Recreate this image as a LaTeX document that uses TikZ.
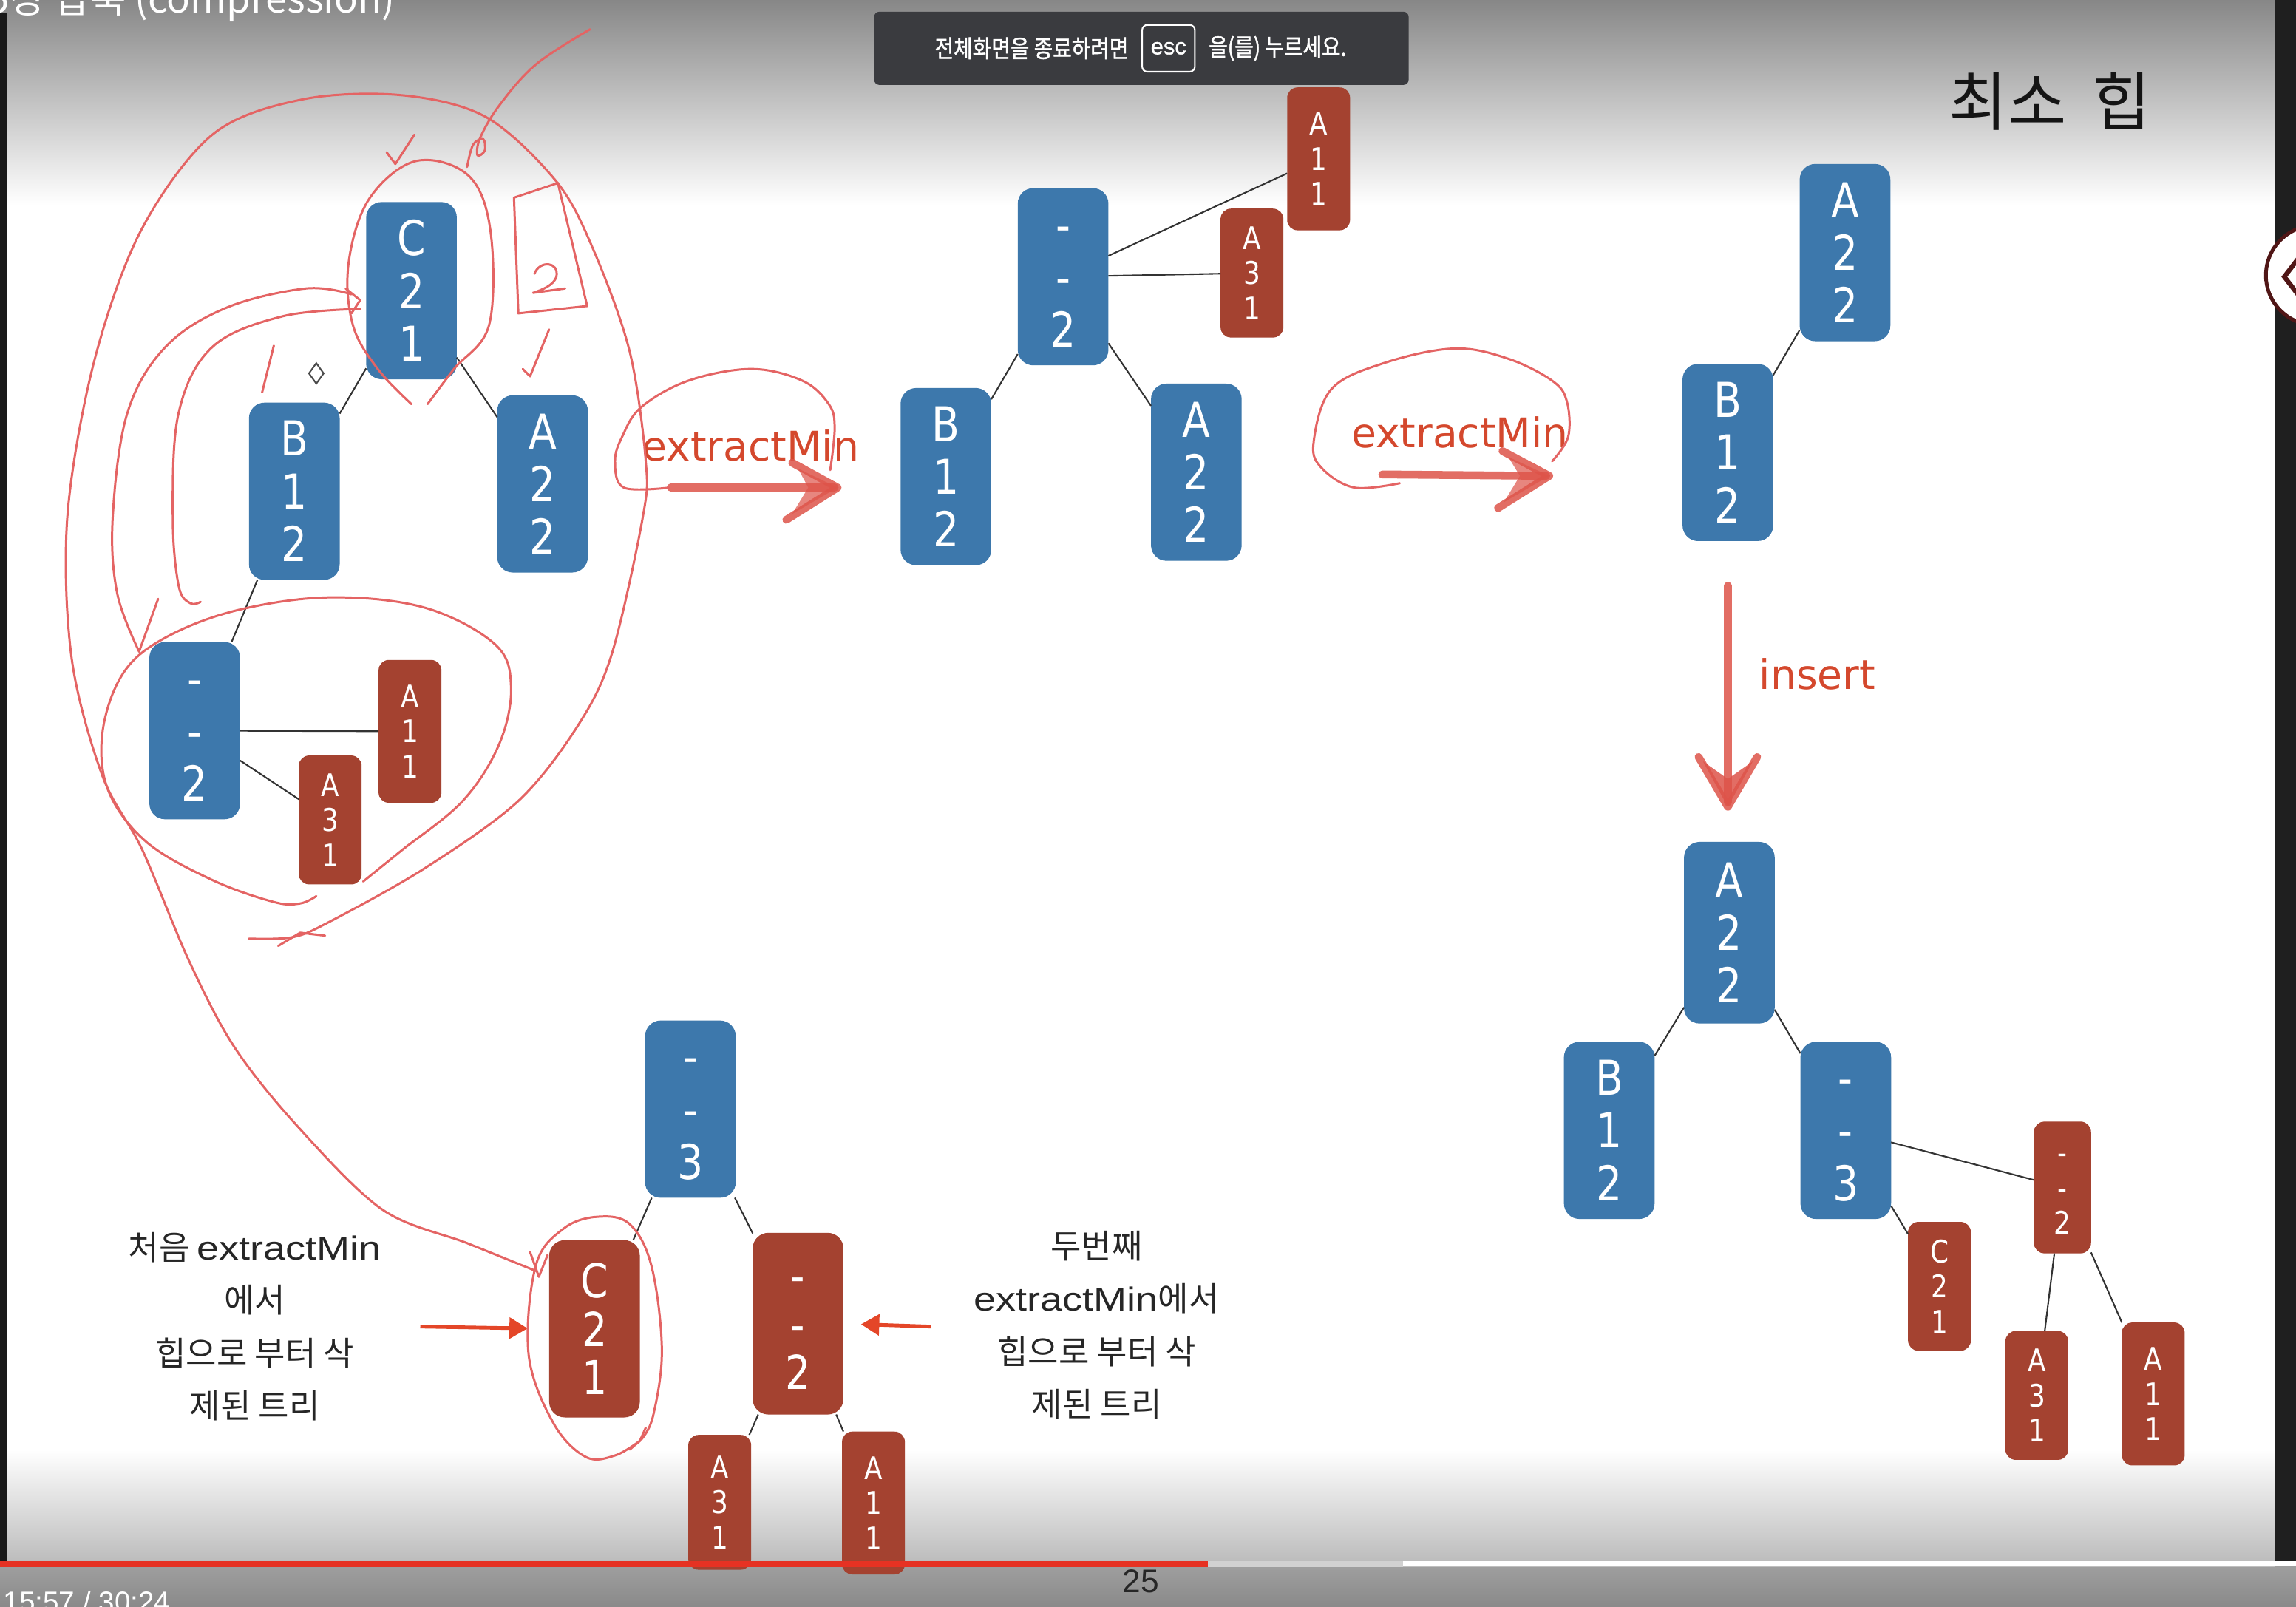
\documentclass[tikz,border=0pt]{standalone}
\usepackage{fontspec}
\setmainfont{DejaVu Sans}
\newfontfamily\nodefont[FakeStretch=0.85]{DejaVu Sans}
\newfontfamily\lblfont{DejaVu Sans}
\newfontfamily\krfont{Noto Sans CJK KR}
\newfontfamily\krbold[FakeStretch=0.85,FakeBold=1.5]{Noto Sans CJK KR}
\newfontfamily\latwide[FakeStretch=1.2]{Liberation Sans}
\newfontfamily\arialfont{Liberation Sans}
\newfontfamily\arialbold[FakeBold=1]{Liberation Sans}
\usetikzlibrary{arrows.meta}
\definecolor{nblue}{RGB}{61,120,172}
\definecolor{nred}{RGB}{164,66,48}
\definecolor{pen}{RGB}{228,100,100}
\definecolor{brush}{RGB}{222,84,74}
\definecolor{slidered}{RGB}{212,72,45}
\definecolor{arrowred}{RGB}{228,70,40}
\definecolor{toast}{RGB}{58,59,63}
\definecolor{iconred}{RGB}{80,22,22}
\definecolor{barred}{RGB}{230,50,35}
\begin{document}
\begin{tikzpicture}[x=0.01981cm, y=-0.01981cm,
  edge/.style={draw=black!80, line width=0.6pt},
  tbig/.style={rounded corners=6pt, minimum width=34.9pt, minimum height=68.2pt, inner sep=0pt, outer sep=0pt, text=white, align=center, font={\nodefont\fontsize{18.5pt}{20.3pt}\selectfont}},
  tsmall/.style={rounded corners=4pt, minimum width=24.2pt, minimum height=55pt, inner sep=0pt, outer sep=0pt, text=white, align=center, font={\nodefont\fontsize{12pt}{13.5pt}\selectfont}},
  bluebox/.style={tbig, fill=nblue},
  redbig/.style={tbig, fill=nred},
  redsmall/.style={tsmall, fill=nred},
  shortbox/.style={minimum height=49.6pt},
  tightlines/.style={font={\nodefont\fontsize{18pt}{18.6pt}\selectfont}},
  pen/.style={draw=pen, line width=0.85pt, line cap=round, line join=round},
  brushline/.style={draw=brush, line width=3pt, line cap=round, line join=round, opacity=0.85},
  slidelbl/.style={text=slidered, inner sep=0pt, font={\lblfont\fontsize{15.7pt}{18pt}\selectfont}},
  note/.style={align=center, inner sep=0pt, text=black!85, font={\krfont\fontsize{12.8pt}{20.3pt}\selectfont}},
  oarrow/.style={draw=arrowred, line width=1.4pt, -{Triangle[length=7pt,width=8pt]}}
]
\useasboundingbox (0,0) rectangle (1568,1097);
% ---------- background ----------
\fill[white] (0,0) rectangle (1568,1097);
\shade[top color=black!47, bottom color=white] (0,0) rectangle (1568,140);
\shade[top color=white, bottom color=black!26] (0,990) rectangle (1568,1066);
\shade[top color=black!38, bottom color=black!46] (0,1070) rectangle (1568,1097);
\fill[black!90] (0,9) rectangle (5,1066);
\fill[black!88] (1554,0) rectangle (1568,1066);
% title (cut off at top, as in the screenshot)
\node[anchor=base east, inner sep=0pt, text=white, font={\krfont\fontsize{15pt}{18pt}\selectfont}] (title) at (270,9) {5장 압축 (compression)};
% toast
\fill[toast, rounded corners=2pt] (597,8) rectangle (962,58);
\node[text=white, inner sep=0pt, font={\krbold\fontsize{9.3pt}{10pt}\selectfont}] (toastL) at (704.5,33) {전체화면을 종료하려면};
\node[draw=white, line width=0.6pt, rounded corners=2pt, minimum width=20.3pt, minimum height=18pt, inner sep=0pt, text=white, font={\arialbold\fontsize{8.8pt}{10pt}\selectfont}] (esc) at (798,33) {esc};
\node[text=white, inner sep=0pt, font={\krbold\fontsize{9.3pt}{10pt}\selectfont}] (toastR) at (872.5,33) {을(를) 누르세요.};
% heading
\node[inner sep=0pt, text=black!92, font={\krfont\fontsize{24.5pt}{27pt}\selectfont}] (heading) at (1400,69) {최소\hspace{10pt}힙};
% right icon
\draw[draw=iconred, line width=1.4pt, fill=white] (1581.5,188) circle[radius=19.2pt];
\draw[draw=iconred, line width=1.8pt] (1570,176) -- (1560,189) -- (1570,202);

% ---------- tree 1 ----------
\node[bluebox] (t1c) at (281,198.5) {C\\2\\1};
\node[bluebox] (t1b) at (201,335.5) {B\\1\\2};
\node[bluebox] (t1a) at (370.5,330.5) {A\\2\\2};
\node[bluebox] (t1m) at (133,499) {\vphantom{C}-\\-\\2};
\node[redsmall] (t1a11) at (280,499.5) {A\\1\\1};
\node[redsmall, shortbox] (t1a31) at (225.5,560) {A\\3\\1};
\draw[edge] (t1c) -- (t1b);
\draw[edge] (t1c) -- (t1a);
\draw[edge] (t1b) -- (t1m);
\draw[edge] (t1m) -- (t1a11);
\draw[edge] (t1m) -- (t1a31);

% ---------- tree 2 ----------
\node[bluebox] (t2m) at (726,189) {\vphantom{C}-\\-\\2};
\node[bluebox] (t2b) at (646,325.5) {B\\1\\2};
\node[bluebox] (t2a) at (817,322.5) {A\\2\\2};
\node[redsmall] (t2a11) at (900.5,108.5) {A\\1\\1};
\node[redsmall, shortbox] (t2a31) at (855,186.5) {A\\3\\1};
\draw[edge] (t2m) -- (t2b);
\draw[edge] (t2m) -- (t2a);
\draw[edge] (t2m) -- (t2a11);
\draw[edge] (t2m) -- (t2a31);

% ---------- tree 3 ----------
\node[bluebox] (t3a) at (1260,172.5) {A\\2\\2};
\node[bluebox] (t3b) at (1180,309) {B\\1\\2};
\draw[edge] (t3a) -- (t3b);

% ---------- tree 4 ----------
\node[bluebox, minimum height=69.9pt] (t4a) at (1181,637) {A\\2\\2};
\node[bluebox] (t4b) at (1099,772) {B\\1\\2};
\node[bluebox] (t4m) at (1260.5,772) {\vphantom{C}-\\-\\3};
\node[redsmall, minimum width=22pt, minimum height=50.7pt] (t4r) at (1408.5,811) {\vphantom{C}-\\-\\2};
\node[redsmall, shortbox] (t4c) at (1324.5,878.5) {C\\2\\1};
\node[redsmall, shortbox] (t4a31) at (1391,953) {A\\3\\1};
\node[redsmall] (t4a11) at (1470.5,952) {A\\1\\1};
\draw[edge] (t4a) -- (t4b);
\draw[edge] (t4a) -- (t4m);
\draw[edge] (t4m) -- (t4r);
\draw[edge] (t4m) -- (t4c);
\draw[edge] (t4r) -- (t4a31);
\draw[edge] (t4r) -- (t4a11);

% ---------- tree 5 ----------
\node[bluebox] (t5m) at (471.5,757.5) {\vphantom{C}-\\-\\3};
\node[redbig, tightlines] (t5c) at (406,907.5) {C\\2\\1};
\node[redbig, tightlines, minimum height=69.9pt] (t5r) at (545,904) {\vphantom{C}-\\-\\2};
\node[redsmall, minimum height=51.9pt] (t5a31) at (491.5,1026) {A\\3\\1};
\node[redsmall] (t5a11) at (596.5,1026.5) {A\\1\\1};
\draw[edge] (t5m) -- (t5c);
\draw[edge] (t5m) -- (t5r);
\draw[edge] (t5r) -- (t5a31);
\draw[edge] (t5r) -- (t5a11);

% ---------- slide labels and arrows ----------
\node[slidelbl, anchor=base] (em1) at (512.5,314.6) {extractMin};
\node[slidelbl, anchor=base] (em2) at (997,305.5) {extractMin};
\node[slidelbl, anchor=base west] (ins) at (1201,471) {insert};

\node[note] (noteL) at (174,906) {처음 {\latwide extractMin}\\에서\\힙으로 부터 삭\\제된 트리};
\node[note] (noteR) at (749,905) {두번째\\{\latwide extractMin}에서\\힙으로 부터 삭\\제된 트리};
\coordinate (la) at (287,906);
\coordinate (ra) at (636,906);
\draw[oarrow, shorten >=8.3pt] (la) -- (t5c.west);
\draw[oarrow, shorten >=6.8pt] (ra) -- (t5r.east);

% ---------- brush arrows ----------
\draw[brushline] (458,333) -- (570,333);
\draw[brushline] (541,316) -- (572,333) -- (537,355);
\fill[brush, opacity=0.7] (545,320) -- (572,333) -- (541,351) -- (552,333) -- cycle;
\draw[brushline] (944,324) -- (1056,325);
\draw[brushline] (1026,308) -- (1058,325) -- (1023,347);
\fill[brush, opacity=0.7] (1030,312) -- (1058,325) -- (1027,343) -- (1038,325) -- cycle;
\draw[brushline] (1180,400) -- (1180,548);
\draw[brushline] (1160,517) -- (1180,551) -- (1200,517);
\fill[brush, opacity=0.85] (1163,520) -- (1180,551) -- (1197,520) -- (1180,532) -- cycle;

% ---------- hand-drawn annotations ----------
\draw[pen] plot[smooth, tension=0.6] coordinates {(457,333) (426,333) (420,315) (425,298) (438,278) (470,260) (513,252) (548,260) (566,276) (570,292) (567,321)};
\draw[pen] plot[smooth, tension=0.6] coordinates {(956,330) (925,333) (903,320) (897,303) (909,266) (945,248) (993,238) (1030,245) (1060,260) (1070,274) (1071,298) (1060,315)};
% big loop and line to bottom C21
\draw[pen] plot[smooth, tension=0.55] coordinates {(170,641) (200,640) (226,629) (290,593) (354,547) (395,495) (418,446) (439,353) (441,315) (430,240) (405,170) (380,124) (332,80) (274,65) (206,68) (145,92) (96,158) (64,248) (46,353) (49,450) (70,530) (97,580) (129,656) (160,715) (203,769) (261,826) (319,849) (366,868)};
\draw[pen] (190,646) -- (205,637) -- (222,639);
\draw[pen] (362,855) -- (368,872) -- (374,857);
% ellipse around --2 subtree
\draw[pen] plot[smooth, tension=0.6] coordinates {(248,602) (274,581) (316,547) (341,508) (349,469) (338,440) (290,415) (225,408) (161,417) (112,436) (84,460) (70,500) (74,540) (100,575) (145,601) (187,616) (205,617) (216,612)};
% arcs from C21
\draw[pen] plot[smooth, tension=0.6] coordinates {(240,201) (209,197) (155,210) (113,237) (87,282) (77,353) (80,405) (95,445)};
\draw[pen] (108,409) -- (95,445);
\draw[pen] plot[smooth, tension=0.6] coordinates {(246,211) (193,216) (145,237) (122,282) (118,353) (122,400) (130,412) (137,411)};
\draw[pen] (236,197) -- (246,205) -- (240,214);
% ellipse around C21
\draw[pen] plot[smooth, tension=0.6] coordinates {(281,276) (258,252) (241,222) (238,180) (252,136) (284,110) (320,120) (335,158) (334,222) (310,252) (292,276)};
% line from top right with curl
\draw[pen] plot[smooth, tension=0.6] coordinates {(403,20) (366,44) (341,72) (328,94) (326,106) (331,103) (330,95) (323,99) (319,114)};
% marks
\draw[pen] (264,104) -- (270,112) -- (283,92);
\draw[pen] (351,135) -- (381,125) -- (401,209) -- (354,214) -- cycle;
\draw[pen] (365,187) .. controls (368,178) and (382,178) .. (380,189) .. controls (378,195) and (370,198) .. (364,200) -- (386,197);
\draw[pen] (375,225) -- (362,257) -- (357,252);
\draw[pen] (187,236) -- (179,268);
\draw[black!70, fill=white, line width=0.6pt] (216,248) -- (221,255) -- (216,262) -- (211,255) -- cycle;
% circle around bottom C21
\draw[pen] plot[smooth, tension=0.6] coordinates {(437,984) (420,994) (400,995) (378,972) (361,925) (366,864) (385,839) (408,831) (430,836) (445,865) (452,922) (446,967) (438,983)};
\draw[pen] (430,990) -- (437,984) -- (441,975);

% ---------- video bar ----------
\fill[barred] (0,1066) rectangle (825,1070);
\fill[black!18] (825,1066) rectangle (958,1070);
\fill[white, opacity=0.35] (958,1066) rectangle (1554,1070);
\node[inner sep=0pt, text=black!85, font={\arialfont\fontsize{12.6pt}{14pt}\selectfont}] (page) at (779,1080) {25};
\node[anchor=base west, inner sep=0pt, text=white, font={\arialfont\fontsize{11pt}{13pt}\selectfont}] (time) at (2,1101) {15:57 / 30:24};
\end{tikzpicture}
\end{document}
